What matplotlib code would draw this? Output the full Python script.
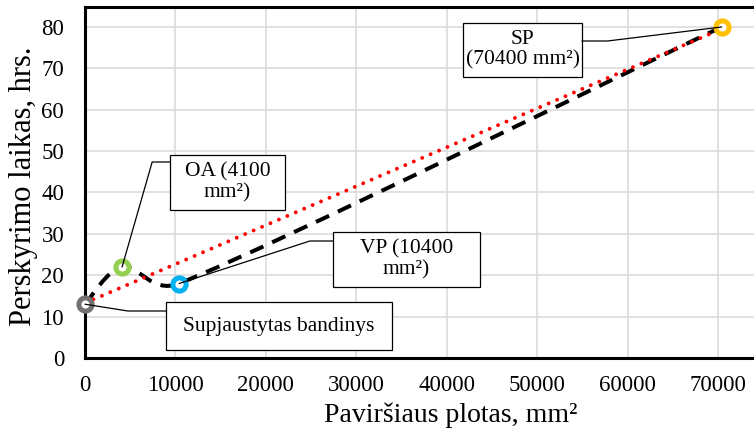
import numpy as np
import matplotlib.pyplot as plt
from matplotlib.path import Path
from matplotlib.patches import PathPatch, Rectangle

# data
names = ['Supjaustytas bandinys', 'OA (4100\nmm²)', 'VP (10400\nmm²)', 'SP\n(70400 mm²)']
area = [0, 4100, 10400, 70400]
hours = [13, 22, 18, 80]
colors = ['#767171', '#92d050', '#00b0f0', '#ffc000']

plt.rcParams['font.family'] = ['Liberation Serif', 'DejaVu Serif']

W, H = 754, 428
fig = plt.figure(figsize=(W/100, H/100), dpi=100)
ax = fig.add_axes([85/W, 70/H, 669/W, 351/H])
ax.set_xlim(0, 73980)
ax.set_ylim(0, 84.83)

ax.set_xticks(np.arange(0, 70001, 10000))
ax.set_yticks(np.arange(0, 81, 10))
ax.grid(True, color='#d9d9d9', lw=1.1)
ax.set_axisbelow(True)
ax.tick_params(length=0, labelsize=16.5)
ax.tick_params(axis='x', pad=12)
ax.tick_params(axis='y', pad=15)
for s in ['left', 'top', 'bottom']:
    ax.spines[s].set_linewidth(2.2)
ax.spines['right'].set_visible(False)

ax.set_xlabel('Paviršiaus plotas, mm²', fontsize=20)
ax.xaxis.set_label_coords(0.547, -0.128)
ax.set_ylabel('Perskyrimo laikas, hrs.', fontsize=22)
ax.yaxis.set_label_coords(-0.07, 0.49)

# smoothed line (Excel-like bezier), control points computed in display space
pts = ax.transData.transform(np.column_stack([area, hours]))
n = len(pts)
verts = [pts[0]]
codes = [Path.MOVETO]
for i in range(n - 1):
    p0 = pts[max(i - 1, 0)]
    p1 = pts[i]
    p2 = pts[i + 1]
    p3 = pts[min(i + 2, n - 1)]
    d12 = np.hypot(*(p2 - p1))
    t1 = (p2 - p0) / 6
    t2 = (p3 - p1) / 6
    # keep handles shorter than half of the segment
    t1 = t1 * min(1, 0.5 * d12 / max(np.hypot(*t1), 1e-9))
    t2 = t2 * min(1, 0.5 * d12 / max(np.hypot(*t2), 1e-9))
    verts += [p1 + t1, p2 - t2, p2]
    codes += [Path.CURVE4] * 3
verts = ax.transData.inverted().transform(np.array(verts))
ax.add_patch(PathPatch(Path(verts, codes), fill=False, ec='black', lw=2.9,
                       ls=(0, (3.6, 2.4)), zorder=3))

# linear trend line
k, b = np.polyfit(area, hours, 1)
xt = np.array([min(area), max(area)])
ax.plot(xt, k * xt + b, color='red', lw=2.8, ls=(0, (0.01, 2.35)),
        dash_capstyle='round', zorder=4)

for x, y, c in zip(area, hours, colors):
    ax.plot(x, y, 'o', ms=9.5, mfc='white', mec=c, mew=3.6, zorder=5, clip_on=False)

# callout boxes in pixels (left, top, right, bottom), leader attach point, angle of last leg
boxes = [(166, 302, 392, 350), (170, 155, 285, 210), (333, 232, 480, 287), (463, 23, 582, 77)]
attach = [(166, 311), (170, 162), (333, 241), (582, 41)]
angB = [-9, 74, 18, -173]


def fx(px):
    return (px - 85) / 669


def fy(py):
    return (358 - py) / 351


for i in range(n):
    l, t, r, bt = boxes[i]
    ax.add_patch(Rectangle((fx(l), fy(bt)), fx(r) - fx(l), fy(t) - fy(bt),
                           transform=ax.transAxes, fc='white', ec='black', lw=0.9,
                           zorder=6, clip_on=False))
    ax.text(fx((l + r) / 2), fy((t + bt) / 2), names[i], transform=ax.transAxes,
            ha='center', va='center', fontsize=15.5, linespacing=1.1, zorder=7)
    ax.annotate('', xy=(area[i], hours[i]), xytext=(fx(attach[i][0]), fy(attach[i][1])),
                textcoords='axes fraction', zorder=6,
                arrowprops=dict(arrowstyle='-', color='black', lw=0.9,
                                shrinkA=0, shrinkB=0,
                                connectionstyle='angle,angleA=0,angleB=%d,rad=0' % angB[i]))

fig.savefig('out.png', dpi=100)
